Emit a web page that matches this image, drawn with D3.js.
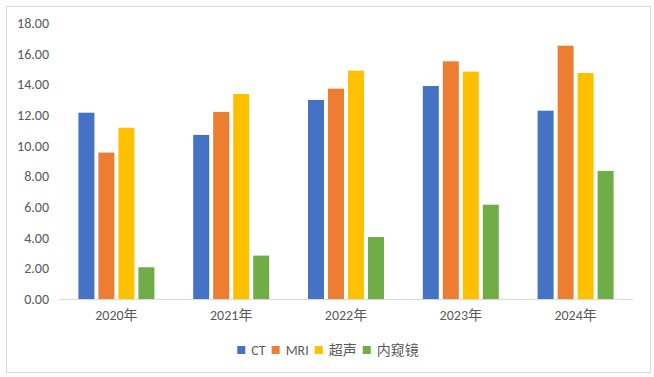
<!DOCTYPE html>
<html>
<head>
<meta charset="utf-8">
<script src="https://cdn.jsdelivr.net/npm/d3@7"></script>
<style>
  body { margin: 0; background: #fff; }
  svg text { font-family: Carlito, "Liberation Sans", "Noto Sans CJK SC", sans-serif; fill: #595959; }
</style>
</head>
<body>
<div class="chart"></div>
<script>
// data
const years = ["2020年", "2021年", "2022年", "2023年", "2024年"];
const seriesNames = ["CT", "MRI", "超声", "内窥镜"];
const ct = [12.15, 10.70, 12.98, 13.89, 12.28];
const mri = [9.55, 12.20, 13.72, 15.50, 16.52];
const ultrasound = [11.17, 13.37, 14.89, 14.83, 14.74];
const endoscope = [2.07, 2.83, 4.04, 6.15, 8.35];
const yTicks = [0, 2, 4, 6, 8, 10, 12, 14, 16, 18];
const colors = ["#4472C4", "#ED7D31", "#FFC000", "#70AD47"];

const seriesValues = [ct, mri, ultrasound, endoscope];

// layout
const W = 654, H = 377;
const margin = {top: 23, right: 21, bottom: 78, left: 59};
const w = W - margin.left - margin.right;
const h = H - margin.top - margin.bottom;

const svg = d3.select(".chart")
    .append("svg")
    .attr("width", W)
    .attr("height", H);

// outer frame
svg.append("rect")
    .attr("x", 6.5).attr("y", 6.5)
    .attr("width", 644).attr("height", 366)
    .attr("fill", "#fff")
    .attr("stroke", "#d9d9d9");

const g = svg.append("g")
    .attr("transform", "translate(" + margin.left + "," + margin.top + ")");

// scales
const x0 = d3.scaleBand()
    .domain(years)
    .range([0, w]);

const groupPad = (x0.bandwidth() - 76) / 2;
const x1 = d3.scaleBand()
    .domain(seriesNames)
    .range([groupPad, x0.bandwidth() - groupPad])
    .paddingInner(0.2);

const y = d3.scaleLinear()
    .domain([0, 18])
    .range([h, 0]);

// y axis labels (no line, no ticks)
const yAxis = d3.axisLeft(y)
    .tickValues(yTicks)
    .tickFormat(d3.format(".2f"))
    .tickSize(0)
    .tickPadding(10);

g.append("g")
    .attr("class", "axis y-axis")
    .call(yAxis)
    .call(s => s.select(".domain").remove())
    .selectAll("text")
    .style("font-size", "14px")
    .attr("fill", "#595959");

// bars
const groups = g.selectAll(".year")
    .data(years)
    .join("g")
    .attr("class", "year")
    .attr("transform", d => "translate(" + x0(d) + ",0)");

groups.selectAll("rect")
    .data((d, i) => seriesNames.map((s, j) => ({series: s, value: seriesValues[j][i], color: colors[j]})))
    .join("rect")
    .attr("x", d => x1(d.series))
    .attr("width", x1.bandwidth())
    .attr("y", d => y(d.value))
    .attr("height", d => h - y(d.value))
    .attr("fill", d => d.color);

// x axis
const xAxis = d3.axisBottom(x0)
    .tickSize(0)
    .tickPadding(11);

const xAxisDisplay = g.append("g")
    .attr("class", "axis x-axis")
    .attr("transform", "translate(0," + h + ")")
    .call(xAxis);

xAxisDisplay.select(".domain")
    .attr("stroke", "#d9d9d9")
    .attr("stroke-width", 1);

xAxisDisplay.selectAll("text")
    .style("font-size", "14px")
    .attr("fill", "#595959");

// legend, centered under the chart
const legend = svg.append("g").attr("class", "legend");
let lx = 0;
seriesNames.forEach((name, i) => {
    const item = legend.append("g").attr("transform", "translate(" + lx + ",0)");
    item.append("rect")
        .attr("x", 0).attr("y", -4)
        .attr("width", 8).attr("height", 8)
        .attr("fill", colors[i]);
    const t = item.append("text")
        .attr("x", 14)
        .attr("dy", "0.35em")
        .style("font-size", "14px")
        .text(name);
    lx += 14 + t.node().getComputedTextLength() + 6;
});
const legendW = lx - 6;
legend.attr("transform", "translate(" + (328 - legendW / 2) + ",350)");
</script>
</body>
</html>
